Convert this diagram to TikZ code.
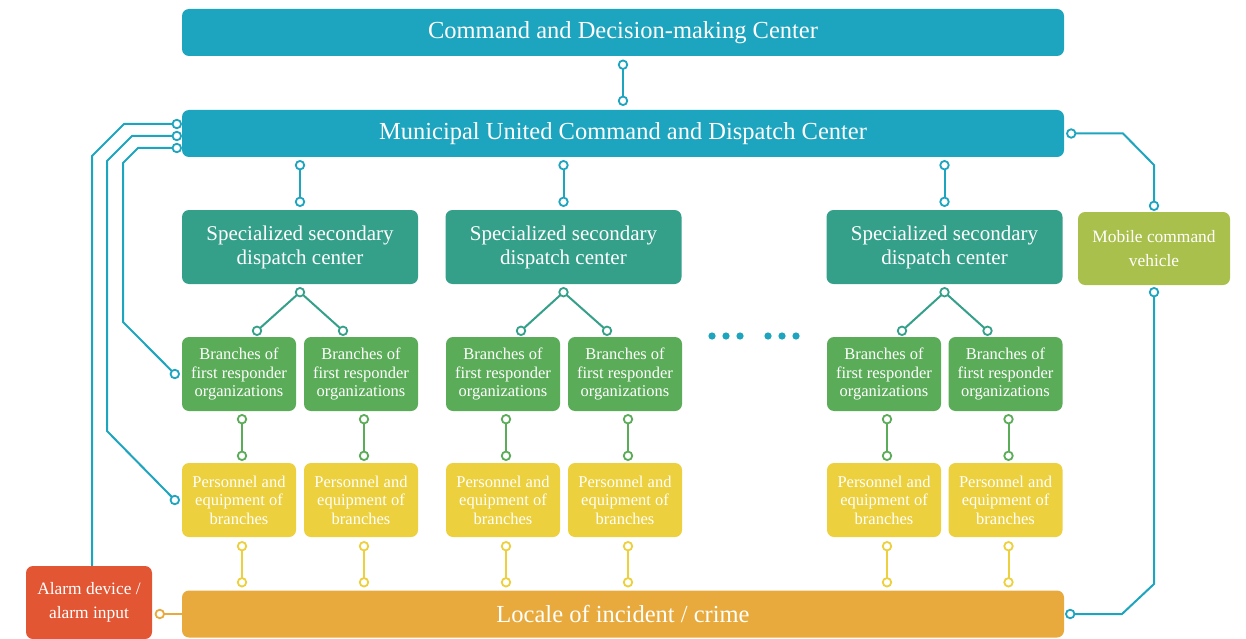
\documentclass[tikz,border=0pt]{standalone}
\usepackage{fontspec}
\setmainfont{Liberation Serif}
\usetikzlibrary{calc}
\definecolor{cblue}{RGB}{29,164,190}
\definecolor{cteal}{RGB}{52,160,138}
\definecolor{cgreen}{RGB}{90,172,88}
\definecolor{cyellow}{RGB}{236,208,62}
\definecolor{corange}{RGB}{232,170,60}
\definecolor{cred}{RGB}{226,86,52}
\definecolor{clime}{RGB}{170,192,76}

\begin{document}
\begin{tikzpicture}[x=1pt,y=-1pt,
    box/.style={rounded corners=7pt, text=white, align=center, inner sep=0pt},
    wide/.style={box, minimum width=882pt, minimum height=47pt, font=\fontsize{24.5}{28}\selectfont},
    secbox/.style={box, fill=cteal, minimum width=236pt, minimum height=74pt, font=\fontsize{21}{24}\selectfont},
    small/.style={box, minimum width=114pt, minimum height=74pt, font=\fontsize{16.5}{18.5}\selectfont},
    side/.style={box, font=\fontsize{17.4}{24}\selectfont},
    ln/.style={draw=#1, line width=2pt},
    ring/.style={circle, draw=#1, fill=white, line width=1.8pt, minimum size=8.5pt, inner sep=0pt}]
    \useasboundingbox (0,0) rectangle (1246,639);

    \node[wide, fill=cblue] (top) at (623,32.5) {Command and Decision-making Center};
    \node[wide, fill=cblue] (mun) at (623,133.5) {Municipal United Command and Dispatch Center};
    \node[wide, fill=corange] (loc) at (623,614) {Locale of incident / crime};

    \node[secbox] (sec1) at (300,247) {Specialized secondary\\dispatch center};
    \node[secbox] (sec2) at (563.5,247) {Specialized secondary\\dispatch center};
    \node[secbox] (sec3) at (944.5,247) {Specialized secondary\\dispatch center};

    \foreach \i/\x in {1/239,2/361,3/503,4/625,5/884,6/1005.5}{
        \node[small, fill=cgreen] (br\i) at (\x,374) {Branches of\\first responder\\organizations};
        \node[small, fill=cyellow] (pe\i) at (\x,500) {Personnel and\\equipment of\\branches};
    }

    \node[side, fill=cred, minimum width=126pt, minimum height=73pt] (alarm) at (89,602.5) {Alarm device /\\alarm input};
    \node[side, fill=clime, minimum width=152pt, minimum height=73pt] (mob) at (1154,248.5) {Mobile command\\vehicle};

    \draw[ln=cblue] ([yshift=-8.5pt]top.south) node[ring=cblue]{} -- ([yshift=9pt]mun.north) node[ring=cblue]{};
    \foreach \s in {sec1,sec2,sec3}
        \draw[ln=cblue] ([yshift=-8pt]mun.south -| \s.north) node[ring=cblue]{} -- ([yshift=8pt]\s.north) node[ring=cblue]{};

    \foreach \s/\a/\b in {sec1/br1/br2,sec2/br3/br4,sec3/br5/br6}{
        \draw[ln=cteal] ([xshift=18pt,yshift=6pt]\a.north) node[ring=cteal]{} -- ([yshift=-8pt]\s.south)
            -- ([xshift=-18pt,yshift=6pt]\b.north) node[ring=cteal]{};
        \node[ring=cteal] at ([yshift=-8pt]\s.south) {};
    }

    \foreach \i in {1,...,6}{
        \draw[ln=cgreen] ([xshift=3pt,yshift=-8pt]br\i.south) node[ring=cgreen]{} -- ([xshift=3pt,yshift=7pt]pe\i.north) node[ring=cgreen]{};
        \draw[ln=cyellow] ([xshift=3pt,yshift=-9pt]pe\i.south) node[ring=cyellow]{} -- ([xshift=3pt,yshift=8pt]pe\i.south |- loc.north) node[ring=cyellow]{};
    }

    \draw[ln=corange] (loc.west) -- ++(-22,0) node[ring=corange]{};

    \draw[ln=cblue] ([xshift=-5pt,yshift=9.5pt]mun.west) node[ring=cblue]{} -- (124,124) -- (92,156) -- ([xshift=3pt]alarm.north);
    \draw[ln=cblue] ([xshift=-5pt,yshift=-2.5pt]mun.west) node[ring=cblue]{} -- (132,136) -- (107,161) -- (107,431) -- ([xshift=-7pt]pe1.west) node[ring=cblue]{};
    \draw[ln=cblue] ([xshift=-5pt,yshift=-14.5pt]mun.west) node[ring=cblue]{} -- (138,148) -- (123,163) -- (123,322) -- ([xshift=-7pt]br1.west) node[ring=cblue]{};

    \draw[ln=cblue] ([xshift=7pt]mun.east) node[ring=cblue]{} -- (1123,133.5) -- (1154,165) -- ([yshift=6pt]mob.north) node[ring=cblue]{};
    \draw[ln=cblue] ([yshift=-7pt]mob.south) node[ring=cblue]{} -- (1154,584) -- (1122,614) -- ([xshift=6pt]loc.east) node[ring=cblue]{};

    \foreach \x in {712,726,740,768,782,796}
        \fill[cblue] (\x,336) circle (3.6);
\end{tikzpicture}
\end{document}
